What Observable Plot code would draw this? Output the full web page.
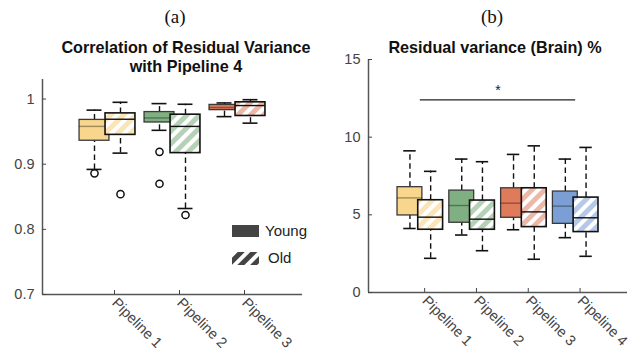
<!DOCTYPE html>
<html><head><meta charset="utf-8">
<script src="https://cdn.jsdelivr.net/npm/d3@7"></script>
<script src="https://cdn.jsdelivr.net/npm/@observablehq/plot@0.6"></script>
<style>
body{margin:0;background:#fff;font-family:"Liberation Sans",Arial,sans-serif;}
#wrap{position:relative;width:636px;height:360px;overflow:hidden;background:#fff;}
.panel{position:absolute;top:0;}
.lab{position:absolute;transform:translateX(-50%);white-space:nowrap;}
.panelLabel{font-family:"Liberation Serif","Times New Roman",serif;font-size:19px;line-height:20px;color:#111;}
.title{font-family:"Liberation Sans",Arial,sans-serif;font-weight:bold;font-size:16.2px;color:#111;text-align:center;line-height:19px;}
.leg{position:absolute;font-family:"Liberation Sans",Arial,sans-serif;font-size:15px;line-height:16px;color:#222;}
</style></head>
<body>
<svg id="defs" width="0" height="0" style="position:absolute"><defs></defs></svg>
<div id="wrap">
  <div class="lab panelLabel" style="left:175px;top:7px">(a)</div>
  <div class="lab title" style="left:186px;top:38px">Correlation of Residual Variance<br>with Pipeline 4</div>
  <div class="lab panelLabel" style="left:492px;top:7px">(b)</div>
  <div class="lab title" style="left:495px;top:38px">Residual variance (Brain) %</div>
  <div id="pa" class="panel" style="left:0"></div>
  <div id="pb" class="panel" style="left:318px"></div>
  <div class="leg" style="left:232px;top:225px;width:27px;height:12px;background:#444"></div>
  <div class="leg" style="left:265px;top:223px">Young</div>
  <svg class="leg" style="left:232px;top:252px" width="27" height="13"><rect width="27" height="13" fill="url(#hatch-legend)"/></svg>
  <div class="leg" style="left:268px;top:250px">Old</div>
</div>
<script>
// ---------- data ----------
const pipelinesA = ["Pipeline 1", "Pipeline 2", "Pipeline 3"];
const pipelinesB = ["Pipeline 1", "Pipeline 2", "Pipeline 3", "Pipeline 4"];
const groups = ["Young", "Old"];
const pipelineColors = ["#f8d68d", "#80b081", "#df7a5b", "#7b9fd4"];
const oldColors = ["#fbe4b7", "#b6d2b6", "#eeb8a8", "#b5c8e8"];
const legendColor = "#444444";

// box stats: [lower whisker, Q1, median, Q3, upper whisker]
const corrYoung = [
  [0.892, 0.936, 0.958, 0.968, 0.983],
  [0.952, 0.964, 0.971, 0.980, 0.993],
  [0.973, 0.983, 0.987, 0.991, 0.994]
];
const corrOld = [
  [0.917, 0.945, 0.969, 0.978, 0.995],
  [0.832, 0.917, 0.958, 0.976, 0.992],
  [0.963, 0.974, 0.990, 0.995, 0.999]
];
const corrOutYoung = [[0.886], [0.919, 0.870], []];
const corrOutOld = [[0.854], [0.822], []];

const resYoung = [
  [4.12, 4.96, 6.09, 6.78, 9.12],
  [3.70, 4.49, 5.60, 6.56, 8.59],
  [4.04, 4.81, 5.75, 6.71, 8.89],
  [3.53, 4.42, 5.56, 6.50, 8.59]
];
const resOld = [
  [2.20, 4.04, 4.85, 5.94, 7.80],
  [2.69, 4.04, 4.72, 5.92, 8.42],
  [2.14, 4.21, 5.19, 6.71, 9.44],
  [2.33, 3.89, 4.81, 6.11, 9.34]
];

const yTicksA = [0.7, 0.8, 0.9, 1];
const yTicksB = [0, 5, 10, 15];
const yDomainA = [0.7, 1.03];
const yDomainB = [0, 15];
const xDomainA = [-0.2, 3.8];
const xDomainB = [-0.2, 4.8];
const sigFrom = [0.8], sigTo = [3.8], sigY = [12.4], sigLabel = ["*"];

// ---------- patterns ----------
const defs = d3.select("#defs defs");
function addHatch(id, base) {
  const p = defs.append("pattern").attr("id", id).attr("patternUnits", "userSpaceOnUse")
    .attr("width", 9).attr("height", 9).attr("patternTransform", "rotate(45)");
  p.append("rect").attr("width", 9).attr("height", 9).attr("fill", base);
  p.append("rect").attr("width", 4).attr("height", 9).attr("fill", "#fff");
}
oldColors.forEach((c, i) => addHatch("hatch-" + i, c));
addHatch("hatch-legend", legendColor);

// ---------- helpers ----------
const YOUNG_OFFSET = -0.4;
function rows(stats, group) {
  return stats.map((s, i) => ({
    pos: i + 1 + (group === "Young" ? YOUNG_OFFSET : 0),
    lo: s[0], q1: s[1], med: s[2], q3: s[3], hi: s[4],
    fill: group === "Young" ? pipelineColors[i] : `url(#hatch-${i})`
  }));
}
function outRows(outs, group) {
  return outs.flatMap((arr, i) => arr.map(v => ({pos: i + 1 + (group === "Young" ? YOUNG_OFFSET : 0), v})));
}
function boxMarks(data, w, group) {
  const young = group === "Young";
  const boxStroke = young ? "#3a3a3a" : "#111";
  const medStroke = young ? "rgba(0,0,0,0.35)" : "#111";
  const wk = {stroke: "#111", strokeWidth: 1.4, strokeDasharray: "5.5,3.5"};
  const cap = {stroke: "#111", strokeWidth: 1.6};
  return [
    Plot.ruleX(data, {x: "pos", y1: "q3", y2: "hi", ...wk}),
    Plot.ruleX(data, {x: "pos", y1: "lo", y2: "q1", ...wk}),
    Plot.ruleY(data, {y: "hi", x1: d => d.pos - w / 4, x2: d => d.pos + w / 4, ...cap}),
    Plot.ruleY(data, {y: "lo", x1: d => d.pos - w / 4, x2: d => d.pos + w / 4, ...cap}),
    Plot.rect(data, {x1: d => d.pos - w / 2, x2: d => d.pos + w / 2, y1: "q1", y2: "q3",
      fill: "fill", stroke: boxStroke, strokeWidth: young ? 1.3 : 1.6}),
    Plot.ruleY(data, {y: "med", x1: d => d.pos - w / 2, x2: d => d.pos + w / 2, stroke: medStroke, strokeWidth: 1.4})
  ];
}
function axes(pipes, yTicks, xDom, yDom) {
  return [
    Plot.ruleX([xDom[0]], {stroke: "#555", strokeWidth: 1.5}),
    Plot.ruleY([yDom[0]], {stroke: "#555", strokeWidth: 1.5}),
    Plot.axisY(yTicks, {tickSize: -4, tickPadding: 12, tickFormat: d => String(d), fontSize: 14.5, color: "#444", label: null}),
    Plot.axisX(pipes.map((_, i) => i + 1), {tickSize: -4, tickPadding: 10, tickRotate: 45, dx: -6,
      tickFormat: d => pipes[d - 1], fontSize: 14.5, color: "#444", label: null})
  ];
}
const style = {fontFamily: "'Liberation Sans', Arial, sans-serif", fontSize: "14px", background: "transparent", overflow: "visible"};

// ---------- panel (a) ----------
const wA = 0.46;
const plotA = Plot.plot({
  width: 318, height: 360,
  marginLeft: 42, marginRight: 16, marginTop: 79, marginBottom: 66,
  x: {domain: xDomainA},
  y: {domain: yDomainA},
  style,
  marks: [
    ...axes(pipelinesA, yTicksA, xDomainA, yDomainA),
    ...boxMarks(rows(corrYoung, "Young"), wA, "Young"),
    ...boxMarks(rows(corrOld, "Old"), wA, "Old"),
    Plot.dot(outRows(corrOutYoung, "Young"), {x: "pos", y: "v", r: 3.6, stroke: "#111", strokeWidth: 1.5, fill: "none"}),
    Plot.dot(outRows(corrOutOld, "Old"), {x: "pos", y: "v", r: 3.6, stroke: "#111", strokeWidth: 1.5, fill: "none"})
  ]
});
document.getElementById("pa").append(plotA);

// ---------- panel (b) ----------
const wB = 0.48;
const plotB = Plot.plot({
  width: 318, height: 360,
  marginLeft: 50, marginRight: 9, marginTop: 59, marginBottom: 68,
  x: {domain: xDomainB},
  y: {domain: yDomainB},
  style,
  marks: [
    ...axes(pipelinesB, yTicksB, xDomainB, yDomainB),
    ...boxMarks(rows(resYoung, "Young"), wB, "Young"),
    ...boxMarks(rows(resOld, "Old"), wB, "Old"),
    Plot.ruleY(sigY.map((y, i) => ({y, x1: sigFrom[i], x2: sigTo[i]})), {y: "y", x1: "x1", x2: "x2", stroke: "#222", strokeWidth: 1.4}),
    Plot.text(sigY.map((y, i) => ({y, x: (sigFrom[i] + sigTo[i]) / 2, t: sigLabel[i]})), {x: "x", y: "y", text: "t", dy: -9, fontSize: 14, fill: "#222"})
  ]
});
document.getElementById("pb").append(plotB);
</script>
</body></html>
